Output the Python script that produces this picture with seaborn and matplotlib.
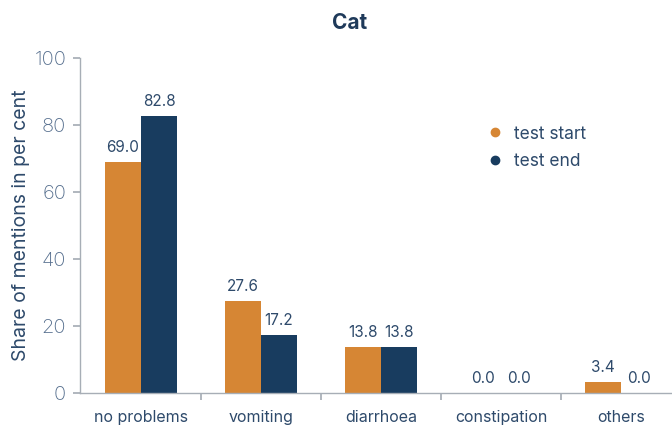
import pandas as pd
import matplotlib
matplotlib.use("Agg")
import matplotlib.pyplot as plt
import seaborn as sns
from matplotlib.lines import Line2D

# -----------------------------
# Data
# -----------------------------
categories = ["no problems", "vomiting", "diarrhoea", "constipation", "others"]
series = ["test start", "test end"]
test_start = [69.0, 27.6, 13.8, 0.0, 3.4]
test_end = [82.8, 17.2, 13.8, 0.0, 0.0]

df = pd.DataFrame({
    "category": categories * 2,
    "series": [series[0]] * len(categories) + [series[1]] * len(categories),
    "value": test_start + test_end,
})

colors = ["#D68634", "#183C5F"]
text_col = "#2E4A6B"
axis_col = "#A7AEB6"

sns.set_theme(style="white")
plt.rcParams["font.family"] = ["Inter", "DejaVu Sans"]

fig = plt.figure(figsize=(6.72, 4.25), dpi=100)
ax = fig.add_axes([80 / 672, 32 / 425, 601 / 672, 335 / 425])

sns.barplot(data=df, x="category", y="value", hue="series",
            palette=colors, width=0.6, saturation=1, linewidth=0,
            ax=ax, legend=False)

for cont in ax.containers:
    ax.bar_label(cont, fmt="%.1f", padding=5, fontsize=11, color=text_col)

ax.set_ylim(0, 100)
ax.set_xlim(-0.508, 4.5)
ax.set_yticks([0, 20, 40, 60, 80, 100])
ax.set_xticks([x + 0.5 for x in range(4)], minor=False)
ax.set_xticks(range(5), minor=True)
ax.set_xticklabels([])
ax.set_xticklabels(categories, minor=True)
ax.tick_params(axis="x", which="major", length=5, color=axis_col, direction="out")
ax.tick_params(axis="x", which="minor", length=0, pad=12, labelsize=11.5, labelcolor=text_col)
ax.tick_params(axis="y", length=5, color=axis_col, labelsize=14.5, labelcolor="#566F8E", pad=5)
ax.tick_params(axis="both", bottom=True, left=True, which="both")
for lbl in ax.get_yticklabels():
    lbl.set_fontweight("light")

for s in ["top", "right"]:
    ax.spines[s].set_visible(False)
for s in ["left", "bottom"]:
    ax.spines[s].set_color(axis_col)
    ax.spines[s].set_linewidth(1)

ax.set_xlabel("")
ax.set_ylabel("Share of mentions in per cent", fontsize=14, color=text_col, labelpad=3)

fig.suptitle("Cat", x=350 / 672, y=0.97, fontsize=15, fontweight="bold", color="#1F3A5A")

handles = [Line2D([0], [0], marker="o", linestyle="", markersize=6,
                  markerfacecolor=c, markeredgecolor=c) for c in colors]
ax.legend(handles, series, loc="upper left", bbox_to_anchor=(391 / 601, 0.845),
          frameon=False, fontsize=12.5, labelcolor=text_col,
          handletextpad=0.6, labelspacing=0.6, handlelength=1.0)

fig.savefig("out.png", dpi=100)
